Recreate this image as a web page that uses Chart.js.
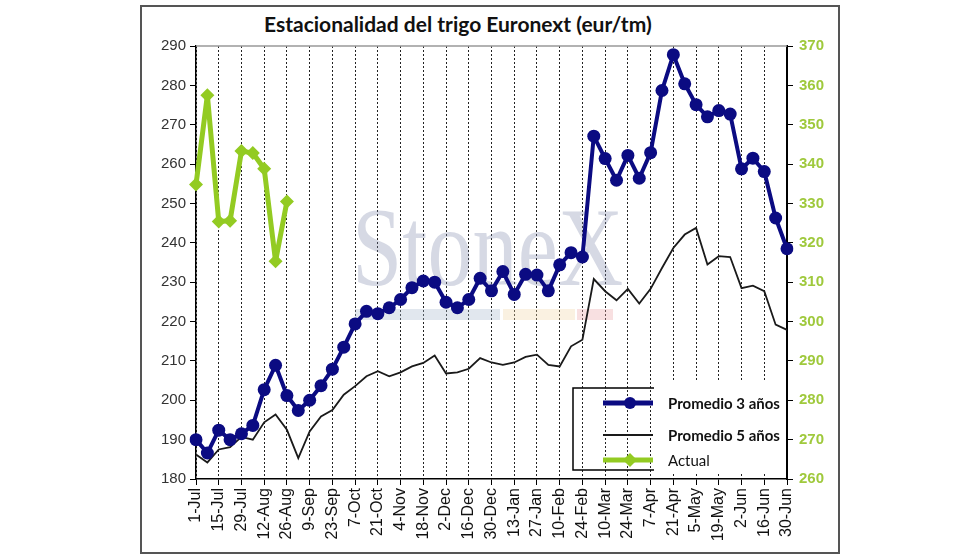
<!DOCTYPE html>
<html>
<head>
<meta charset="utf-8">
<script src="https://cdn.jsdelivr.net/npm/chart.js@4"></script>
<style>
  body { margin: 0; background: #fff; }
  #wrap { position: relative; width: 980px; height: 560px; }
  #frame { position: absolute; left: 140px; top: 5px; width: 696px; height: 545px; border: 2px solid #555; }
  #title { position: absolute; left: 250px; width: 463px; top: 9px; text-align: left; background: #fff;
           font: bold 21px Lato, sans-serif; color: #111; padding: 2px 0 2px 14px; }
  canvas { position: absolute; left: 0; top: 0; }
</style>
</head>
<body>
<div id="wrap">
  <div id="frame"></div>
  <canvas id="seasonChart" width="980" height="560"></canvas>
  <div id="title">Estacionalidad del trigo Euronext (eur/tm)</div>
</div>
<script>
// weekly dates, 1-Jul .. 30-Jun
const weeks = ['1-Jul','8-Jul','15-Jul','22-Jul','29-Jul','5-Aug','12-Aug','19-Aug','26-Aug',
  '2-Sep','9-Sep','16-Sep','23-Sep','30-Sep','7-Oct','14-Oct','21-Oct','28-Oct',
  '4-Nov','11-Nov','18-Nov','25-Nov','2-Dec','9-Dec','16-Dec','23-Dec','30-Dec',
  '6-Jan','13-Jan','20-Jan','27-Jan','3-Feb','10-Feb','17-Feb','24-Feb',
  '3-Mar','10-Mar','17-Mar','24-Mar','31-Mar','7-Apr','14-Apr','21-Apr','28-Apr',
  '5-May','12-May','19-May','26-May','2-Jun','9-Jun','16-Jun','23-Jun','30-Jun'];

const avg3 = [190, 186.6, 192.4, 190, 191.5, 193.6, 202.7, 208.9, 201.2, 197.4,
  200, 203.7, 207.9, 213.5, 219.4, 222.6, 222, 223.5, 225.6, 228.6,
  230.3, 230, 224.9, 223.5, 225.6, 231, 227.8, 232.7, 226.9, 232,
  231.8, 227.8, 234.4, 237.5, 236.4, 267.1, 261.4, 255.9, 262.2, 256.4,
  262.9, 278.7, 287.8, 280.4, 275.1, 272, 273.6, 272.7, 258.8, 261.5,
  258.1, 246.3, 238.5];

const avg5 = [186.2, 184.2, 187.5, 188.1, 190.7, 190, 194.4, 196.4, 192.5, 185.3,
  192.1, 195.9, 197.5, 201.4, 203.6, 206.1, 207.4, 206.1, 207.1, 208.6,
  209.5, 211.4, 206.8, 207.1, 208, 210.7, 209.6, 209.0, 209.6, 211.0,
  211.6, 209.0, 208.6, 213.7, 215.4, 230.8, 227.7, 225.4, 228.3, 224.6,
  228.3, 233.6, 238.7, 242.1, 243.8, 234.5, 236.6, 236.4, 228.5, 229.1,
  227.7, 219.2, 217.9];

// current season, right axis
const actual = [334.8, 357.5, 325.4, 325.6, 343.3, 342.8, 338.8, 315.3, 330.5];

const leftTicks = [180, 290];
const rightTicks = [260, 370];

const navy = '#0b0b82';
const lime = '#93cb22';

// watermark, top border and the boxed legend
const decor = {
    id: 'decor',
    beforeDatasetsDraw(chart) {
        const c = chart.ctx, a = chart.chartArea;
        c.save();
        c.fillStyle = 'rgba(170,185,205,0.35)';
        c.fillRect(355, 309, 145, 11);
        c.fillStyle = 'rgba(240,215,170,0.35)';
        c.fillRect(503, 309, 72, 11);
        c.fillStyle = 'rgba(235,165,170,0.35)';
        c.fillRect(577, 309, 36, 11);
        c.translate(352, 285);
        c.scale(0.8, 1);
        c.fillStyle = 'rgba(120,130,165,0.3)';
        c.font = '113px "Liberation Serif", serif';
        c.fillText('StoneX', 0, 0);
        c.restore();
        c.save();
        c.strokeStyle = '#999';
        c.lineWidth = 1.5;
        c.beginPath();
        c.moveTo(a.left, a.top);
        c.lineTo(a.right, a.top);
        c.stroke();
        c.restore();
    },
    afterDraw(chart) {
        const c = chart.ctx;
        c.save();
        c.strokeStyle = '#000';
        c.lineWidth = 1.5;
        c.strokeRect(573, 388, 200, 82);
        c.fillStyle = '#fff';
        c.fillRect(654, 382, 132, 90);
        // sample 1
        c.strokeStyle = navy; c.lineWidth = 5;
        c.beginPath(); c.moveTo(603, 403); c.lineTo(653, 403); c.stroke();
        c.fillStyle = navy;
        c.beginPath(); c.arc(630, 403, 6, 0, Math.PI * 2); c.fill();
        // sample 2
        c.strokeStyle = '#1a1a1a'; c.lineWidth = 2;
        c.beginPath(); c.moveTo(603, 435); c.lineTo(653, 435); c.stroke();
        // sample 3
        c.strokeStyle = lime; c.lineWidth = 5;
        c.beginPath(); c.moveTo(603, 460); c.lineTo(653, 460); c.stroke();
        c.fillStyle = lime;
        c.beginPath(); c.moveTo(630, 453); c.lineTo(637, 460); c.lineTo(630, 467); c.lineTo(623, 460); c.closePath(); c.fill();
        c.fillStyle = '#111';
        c.font = 'bold 15px Lato, sans-serif';
        c.textBaseline = 'middle';
        c.fillText('Promedio 3 años', 668, 404);
        c.fillText('Promedio 5 años', 668, 436);
        c.font = '15px Lato, sans-serif';
        c.fillText('Actual', 668, 461);
        c.restore();
    }
};

const ctx = document.getElementById('seasonChart').getContext('2d');
const seasonChart = new Chart(ctx, {
    type: 'line',
    data: {
        labels: weeks,
        datasets: [
            {
                label: 'Actual',
                data: actual,
                yAxisID: 'y2',
                borderColor: lime,
                backgroundColor: lime,
                borderWidth: 5,
                borderJoinStyle: 'round',
                pointStyle: 'rectRot',
                pointRadius: 7,
                pointBorderWidth: 0
            },
            {
                label: 'Promedio 3 años',
                data: avg3,
                borderColor: navy,
                backgroundColor: navy,
                borderWidth: 4,
                borderJoinStyle: 'round',
                pointRadius: 6.5,
                pointBorderWidth: 0
            },
            {
                label: 'Promedio 5 años',
                data: avg5,
                borderColor: '#1a1a1a',
                borderWidth: 1.8,
                pointRadius: 0
            }
        ]
    },
    options: {
        responsive: false,
        animation: false,
        layout: { padding: { top: 46, left: 0, right: 0, bottom: 0 } },
        scales: {
            x: {
                ticks: {
                    autoSkip: false,
                    maxRotation: 90,
                    minRotation: 90,
                    padding: 3,
                    color: '#111',
                    font: { family: 'Arial', size: 16 },
                    callback: (v, i) => (i % 2 === 0 ? weeks[i] : '')
                },
                grid: {
                    color: c => (c.index % 2 === 0 ? '#222' : 'rgba(0,0,0,0)'),
                    tickColor: c => (c.index % 2 === 0 ? '#000' : 'rgba(0,0,0,0)'),
                    tickLength: 6,
                    lineWidth: 1
                },
                border: { color: '#000', width: 1.5, dash: [2, 2] },
                afterFit: s => { s.height = 81; }
            },
            y: {
                position: 'left',
                min: leftTicks[0],
                max: leftTicks[1],
                ticks: { stepSize: 10, color: '#333', font: { family: 'Arial', size: 15 }, padding: 4 },
                grid: { drawOnChartArea: false, color: '#000', tickLength: 6 },
                border: { color: '#000', width: 1.5 },
                afterFit: s => { s.width = 196; }
            },
            y2: {
                position: 'right',
                min: rightTicks[0],
                max: rightTicks[1],
                ticks: { stepSize: 10, color: '#9fc93c', font: { family: 'Arial', size: 15, weight: 'bold' }, padding: 6 },
                grid: { drawOnChartArea: false, color: '#000', tickLength: 6 },
                border: { color: '#000', width: 2 },
                afterFit: s => { s.width = 193; }
            }
        },
        plugins: {
            legend: { display: false },
            tooltip: { enabled: false }
        }
    },
    plugins: [decor]
});
</script>
</body>
</html>
